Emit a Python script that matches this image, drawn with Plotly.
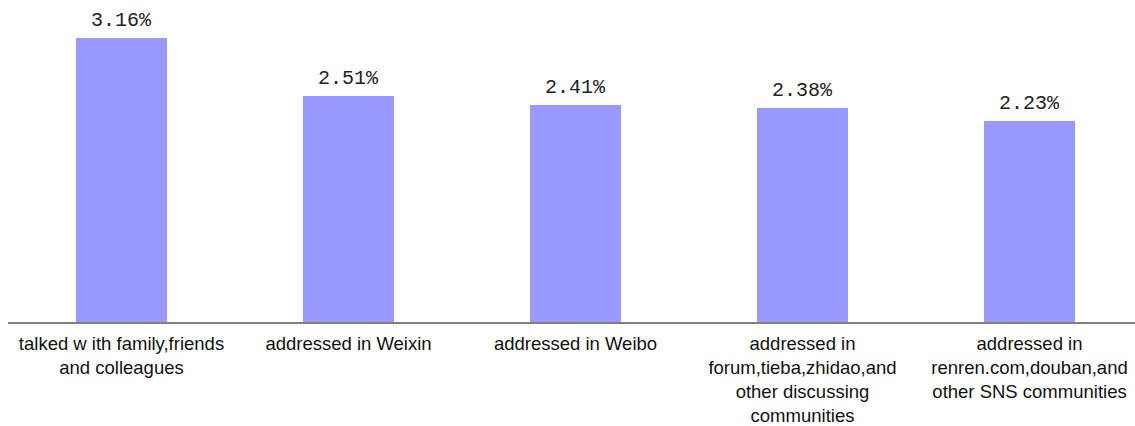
import plotly.graph_objects as go

categories = [
    "talked w ith family,friends<br>and colleagues",
    "addressed in Weixin",
    "addressed in Weibo",
    "addressed in<br>forum,tieba,zhidao,and<br>other discussing<br>communities",
    "addressed in<br>renren.com,douban,and<br>other SNS communities",
]
values = [3.16, 2.51, 2.41, 2.38, 2.23]
value_labels = ["3.16%", "2.51%", "2.41%", "2.38%", "2.23%"]

x_idx = list(range(len(categories)))

fig = go.Figure()
fig.add_trace(go.Bar(
    x=x_idx, y=values, width=0.405,
    marker=dict(color="#9999FF", line=dict(width=0)),
    hoverinfo="skip",
))

for i, (v, lab) in enumerate(zip(values, value_labels)):
    fig.add_annotation(
        x=i, y=v, xref="x", yref="y", text=lab, showarrow=False,
        yanchor="bottom", yshift=4,
        font=dict(family="Liberation Mono", size=20, color="#222222"),
    )

fig.update_layout(
    width=1135, height=426,
    margin=dict(l=8, r=0, t=8, b=104),
    paper_bgcolor="white", plot_bgcolor="white",
    showlegend=False,
    bargap=0,
    xaxis=dict(
        range=[-0.5, -0.5 + 1127 / 227],
        tickmode="array", tickvals=x_idx, ticktext=categories,
        showline=True, linecolor="#808080", linewidth=1.5,
        showgrid=False, zeroline=False, ticks="",
        ticklabelstandoff=4, automargin=False,
        tickfont=dict(family="Liberation Sans", size=18.5, color="#111111"),
        tickangle=0,
    ),
    yaxis=dict(
        range=[0, 314 / 90.0], visible=False, showgrid=False, zeroline=False,
        automargin=False,
    ),
)

fig.write_html("out.html")
